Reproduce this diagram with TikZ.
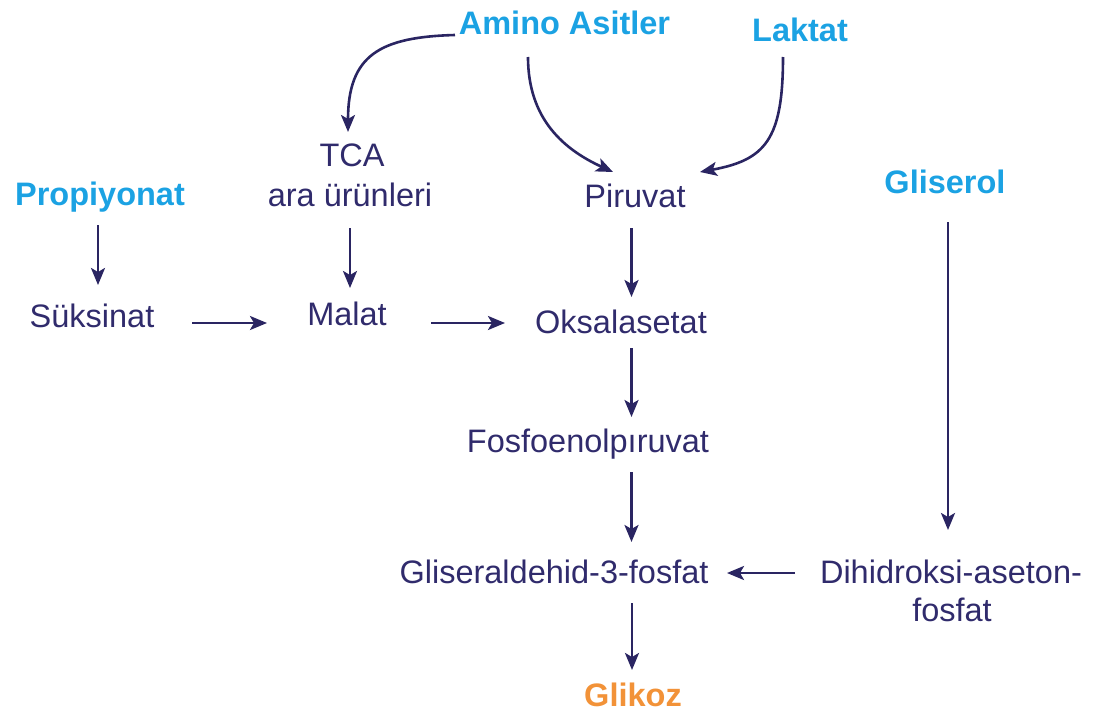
\documentclass[tikz,border=0pt]{standalone}
\usepackage{fontspec}
\setmainfont{Liberation Sans}
\usetikzlibrary{arrows.meta,calc}
\definecolor{navy}{HTML}{302B6C}
\definecolor{arrcol}{HTML}{2A2562}
\definecolor{cyanb}{HTML}{1BA2E3}
\definecolor{orangeb}{HTML}{F29238}
\tikzset{
  lbl/.style={inner sep=0pt, outer sep=0pt, text height=23pt, text depth=7pt,
    font=\fontsize{32.5}{38}\selectfont, text=navy},
  src/.style={lbl, font=\fontsize{32.5}{38}\selectfont\bfseries, text=cyanb},
  goal/.style={lbl, font=\fontsize{32.5}{38}\selectfont\bfseries, text=orangeb},
  arr/.style={draw=arrcol, line width=2.6pt,
    -{Stealth[length=17pt,width=14pt,inset=4pt]}}
}
\begin{document}
\begin{tikzpicture}[x=1pt,y=-1pt]
\useasboundingbox (0,0) rectangle (1093,717);
% nodes
\node[src]  (amino)    at (564.5,26.5) {Amino Asitler};
\node[src]  (laktat)   at (800,33.5)   {Laktat};
\node[lbl]  (tca1)     at (352,158.5)  {TCA};
\node[lbl]  (tca2)     at (350,198.5)  {ara ürünleri};
\node[lbl]  (piru)     at (635,199.5)  {Piruvat};
\node[src]  (prop)     at (100,197.5)  {Propiyonat};
\node[src]  (gliserol) at (945,185.5)  {Gliserol};
\node[lbl]  (suks)     at (92,319.5)   {Süksinat};
\node[lbl]  (malat)    at (347,317.5)  {Malat};
\node[lbl]  (oksa)     at (621,325.5)  {Oksalasetat};
\node[lbl]  (fosfo)    at (588,444.5)  {Fosfoenolpıruvat};
\node[lbl]  (glis)     at (554,575.5)  {Gliseraldehid-3-fosfat};
\node[lbl]  (dihi1)    at (951,575.5)  {Dihidroksi-aseton-};
\node[lbl]  (dihi2)    at (952,613.5)  {fosfat};
\node[goal] (glik)     at (633,698.5)  {Glikoz};
% straight arrows
\draw[arr] ($(prop.center)+(-2,27.5)$) -- ($(suks.center)+(6,-34.5)$);
\draw[arr] ($(tca2.center)+(0,29.5)$) -- ($(malat.center)+(3,-29.5)$);
\draw[arr] ($(piru.center)+(-3.5,28.5)$) -- ($(oksa.center)+(10.5,-28.5)$);
\draw[arr] ($(oksa.center)+(10.5,22.5)$) -- ($(fosfo.center)+(43.5,-27.5)$);
\draw[arr] ($(fosfo.center)+(43.5,27.5)$) -- ($(glis.center)+(77.5,-33.5)$);
\draw[arr] ($(glis.center)+(78,27.5)$) -- ($(glik.center)+(-1,-28.5)$);
\draw[arr] ($(gliserol.center)+(3,36.5)$) -- ($(dihi1.center)+(-3,-45.5)$);
\draw[arr] ($(suks.center)+(100,3.5)$) -- ($(malat.center)+(-80,5.5)$);
\draw[arr] ($(malat.center)+(84,5.5)$) -- ($(oksa.center)+(-116,-2.5)$);
\draw[arr] ($(dihi1.center)+(-156,-2.5)$) -- ($(glis.center)+(173,-2.5)$);
% curved arrows
\draw[arr] ($(amino.center)+(-109.5,8.5)$) .. controls +(-75,2) and +(0,-77) .. ($(tca1.center)+(-4,-26.5)$);
\draw[arr] ($(amino.center)+(-36.5,30.5)$) .. controls +(0,63) and +(-48,-22) .. ($(piru.center)+(-22,-27.5)$);
\draw[arr] ($(laktat.center)+(-17,23.5)$) .. controls +(0,83) and +(65,-12) .. ($(piru.center)+(65,-27.5)$);
\end{tikzpicture}
\end{document}
